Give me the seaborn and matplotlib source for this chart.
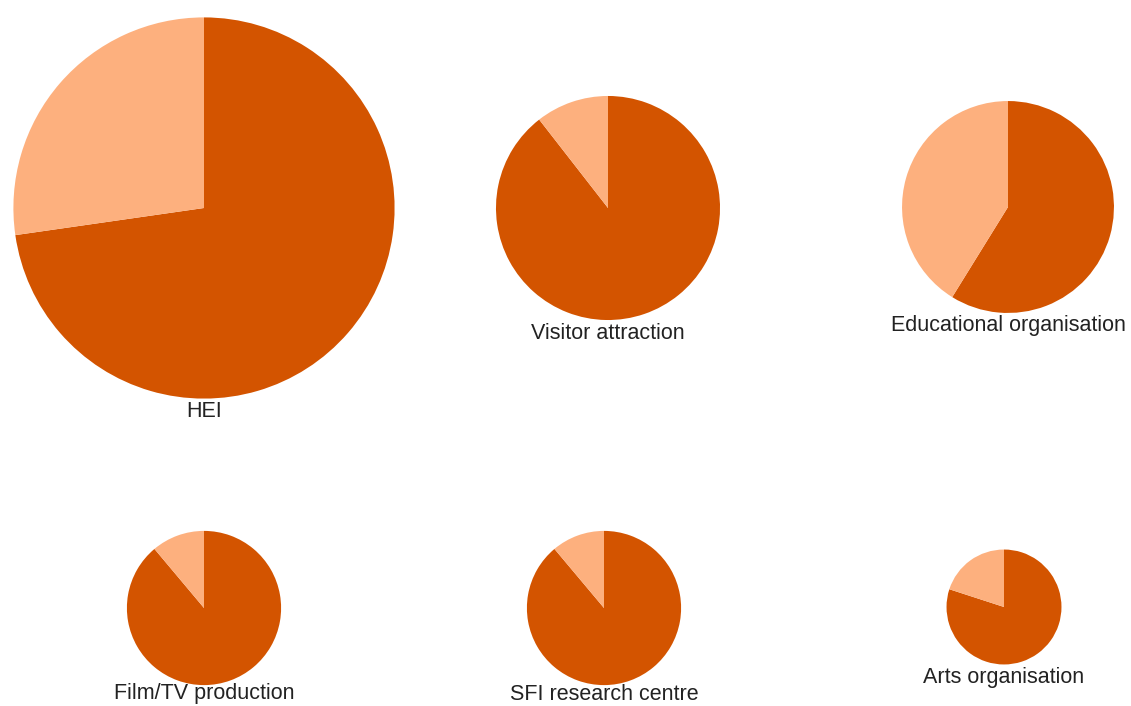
import matplotlib
matplotlib.use("Agg")
import matplotlib.pyplot as plt
import numpy as np
import seaborn as sns

sns.set_theme(style="white")
plt.rcParams['font.family'] = ['Liberation Sans', 'DejaVu Sans']

# Organisation types, with "yes" / "no" counts per type
categories = ["HEI", "Visitor attraction", "Educational organisation",
              "Film/TV production", "SFI research centre", "Arts organisation"]
yes_counts = [40, 17, 10, 8, 8, 4]
no_counts = [15, 2, 7, 1, 1, 1]

colors = ["#D35400", "#FDB07E"]

W, H = 1131, 706
fig = plt.figure(figsize=(W / 100, H / 100), dpi=100)
ax = fig.add_axes([0, 0, 1, 1])

# 3 x 2 grid of pie centres (pixel layout)
centres = [(204, 208), (608, 208), (1008, 207),
           (204, 608), (604, 608), (1004, 607)]
scale = 25.7  # radius per sqrt(count)

for name, y, n, (cx, cy) in zip(categories, yes_counts, no_counts, centres):
    r = scale * np.sqrt(y + n)
    ax.pie([y, n], colors=colors, startangle=90, counterclock=False,
           center=(cx, -cy), radius=r, frame=True,
           wedgeprops=dict(linewidth=0))
    # label under each pie, kept inside the canvas
    ly = min(cy + r + 13, H - 12)
    ax.text(cx, ly, name, ha="center", va="center",
            fontsize=15.5, color="#222222")

# pie() works in y-up coordinates; flip them onto the pixel frame
for p in ax.patches:
    p.set_transform(matplotlib.transforms.Affine2D().scale(1, -1) + ax.transData)

ax.set_xlim(0, W)
ax.set_ylim(H, 0)
ax.set_aspect("equal")
ax.axis("off")

fig.savefig("out.png", dpi=100)
